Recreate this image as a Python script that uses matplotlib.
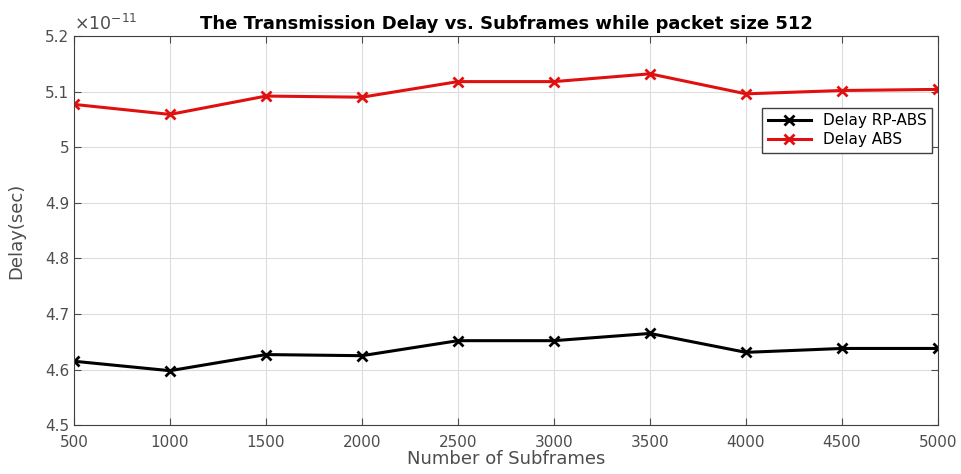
import numpy as np
import matplotlib.pyplot as plt
from matplotlib.ticker import FormatStrFormatter

plt.rcParams['font.family'] = ['DejaVu Sans']

# delays in units of 1e-11 s
subframes = [500, 1000, 1500, 2000, 2500, 3000, 3500, 4000, 4500, 5000]
delay_rp_abs = [4.615, 4.598, 4.627, 4.625, 4.652, 4.652, 4.665, 4.631, 4.638, 4.638]
delay_abs = [5.077, 5.059, 5.092, 5.090, 5.118, 5.118, 5.132, 5.096, 5.102, 5.104]
yticks = [4.5, 4.6, 4.7, 4.8, 4.9, 5.0, 5.1, 5.2]

fig = plt.figure(figsize=(9.61, 4.74), dpi=100)
ax = fig.add_axes([0.077, 0.103, 0.899, 0.821])

ax.plot(subframes, delay_rp_abs, c='black', lw=2.2, marker='x', ms=7, mew=2, label='Delay RP-ABS')
ax.plot(subframes, delay_abs, c='#e01010', lw=2.2, marker='x', ms=7, mew=2, label='Delay ABS')

ax.set_xlim(500, 5000)
ax.set_ylim(4.5, 5.2)
ax.set_xticks(subframes)
ax.set_yticks(yticks)
ax.yaxis.set_major_formatter(FormatStrFormatter('%g'))

ax.text(0, 1.005, r'$\times\mathregular{10^{-11}}$', transform=ax.transAxes, fontsize=12.5,
        color='#4d4d4d', ha='left', va='bottom')

ax.grid(True, color='#dcdcdc', lw=0.8)
ax.tick_params(direction='in', top=True, right=True, labelsize=11, colors='#4d4d4d', length=5)
ax.tick_params(axis='x', pad=7)
for s in ax.spines.values():
    s.set_color('#404040')

ax.set_title('The Transmission Delay vs. Subframes while packet size 512', fontsize=13, fontweight='bold', pad=5)
ax.set_xlabel('Number of Subframes', fontsize=13, color='#4d4d4d', labelpad=0)
ax.set_ylabel('Delay(sec)', fontsize=13, color='#4d4d4d', labelpad=14)

leg = ax.legend(loc='upper right', bbox_to_anchor=(0.993, 0.815), fontsize=11,
                fancybox=False, framealpha=1, edgecolor='#404040', borderpad=0.35,
                borderaxespad=0, handlelength=2.8, labelspacing=0.25)
leg.get_frame().set_linewidth(1.0)

plt.savefig('out.png', dpi=100)
